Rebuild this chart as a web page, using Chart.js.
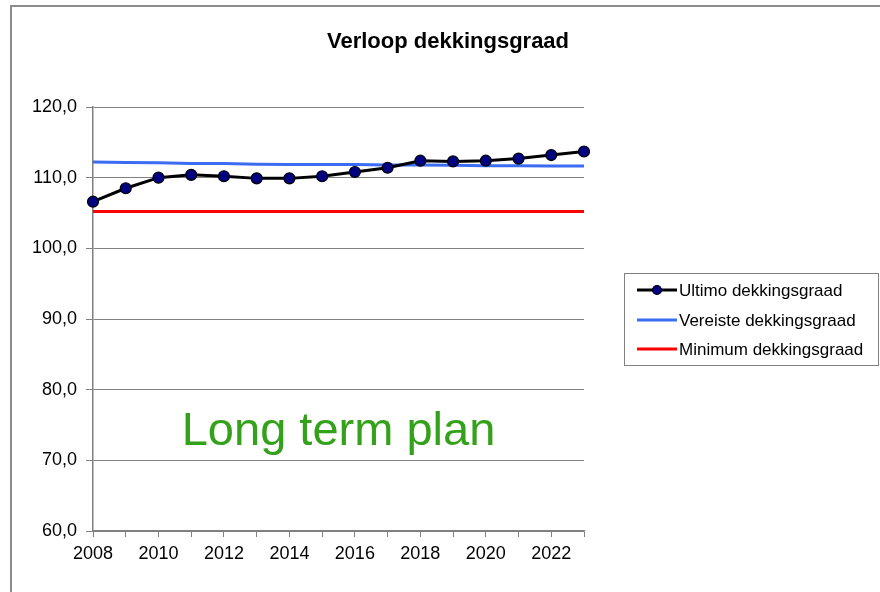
<!DOCTYPE html>
<html>
<head>
<meta charset="utf-8">
<script src="https://cdn.jsdelivr.net/npm/chart.js@4/dist/chart.umd.min.js"></script>
<style>
  html, body { margin: 0; padding: 0; background: #fff; }
  #wrap { position: relative; width: 880px; height: 592px; overflow: hidden; }
  #frame { position: absolute; left: 10px; top: 5px; right: -10px; bottom: -10px;
           border-top: 2px solid #8c8c8c; border-left: 2px solid #8c8c8c; pointer-events: none; }
  canvas { position: absolute; left: 0; top: 0; }
</style>
</head>
<body>
<div id="wrap">
  <canvas id="c" width="880" height="592"></canvas>
  <div id="frame"></div>
</div>
<script>
const title = 'Verloop dekkingsgraad';
const annotationText = 'Long term plan';
const years = ['2008','2009','2010','2011','2012','2013','2014','2015','2016','2017','2018','2019','2020','2021','2022','2023'];
const ultimo = [106.6,108.5,110.0,110.4,110.2,109.9,109.9,110.2,110.8,111.4,112.4,112.3,112.4,112.7,113.2,113.7];
const vereiste = [112.2,112.15,112.1,112.0,112.0,111.9,111.85,111.85,111.85,111.8,111.8,111.75,111.7,111.7,111.65,111.65];
const minimum = [105.2,105.2,105.2,105.2,105.2,105.2,105.2,105.2,105.2,105.2,105.2,105.2,105.2,105.2,105.2,105.2];
const seriesNames = ['Ultimo dekkingsgraad','Vereiste dekkingsgraad','Minimum dekkingsgraad'];
const yTicks = [60,70,80,90,100,110,120];

const FONT = '"Liberation Sans", Arial, sans-serif';
const GRID = '#808080';

const decor = {
  id: 'decor',
  afterDraw(chart) {
    const ctx = chart.ctx;
    const ca = chart.chartArea;
    ctx.save();
    // title
    ctx.fillStyle = '#000';
    ctx.font = 'bold 22px ' + FONT;
    ctx.textAlign = 'center';
    ctx.textBaseline = 'alphabetic';
    ctx.fillText(title, 448, 48);
    // annotation
    ctx.fillStyle = '#34a11a';
    ctx.font = '47px ' + FONT;
    ctx.fillText(annotationText, (ca.left + ca.right) / 2, chart.scales.y.getPixelForValue(72.2));
    // legend
    const bx = 624, by = 273, bw = 254, bh = 92;
    ctx.strokeStyle = '#808080';
    ctx.lineWidth = 1;
    ctx.strokeRect(bx + 0.5, by + 0.5, bw, bh);
    ctx.font = '17px ' + FONT;
    ctx.textAlign = 'left';
    ctx.textBaseline = 'middle';
    const rows = [290, 320, 349];
    chart.data.datasets.forEach((ds, i) => {
      const y = rows[i];
      ctx.strokeStyle = ds.borderColor;
      ctx.lineWidth = 3;
      ctx.beginPath();
      ctx.moveTo(637, y);
      ctx.lineTo(677, y);
      ctx.stroke();
      if (ds.pointRadius > 0) {
        ctx.beginPath();
        ctx.arc(657, y, 4.5, 0, Math.PI * 2);
        ctx.fillStyle = ds.pointBackgroundColor;
        ctx.fill();
        ctx.lineWidth = 1.2;
        ctx.strokeStyle = ds.pointBorderColor;
        ctx.stroke();
      }
      ctx.fillStyle = '#000';
      ctx.fillText(ds.label, 679, y + 1);
    });
    ctx.restore();
  }
};

new Chart(document.getElementById('c'), {
  type: 'line',
  data: {
    labels: years,
    datasets: [
      { label: seriesNames[0], data: ultimo, borderColor: '#000000', borderWidth: 3,
        pointRadius: 5.5, pointBackgroundColor: '#000080', pointBorderColor: '#000000', pointBorderWidth: 1.2,
        tension: 0, order: 0 },
      { label: seriesNames[1], data: vereiste, borderColor: '#3a6cf4', borderWidth: 3,
        pointRadius: 0, tension: 0, order: 1 },
      { label: seriesNames[2], data: minimum, borderColor: '#ff0000', borderWidth: 3,
        pointRadius: 0, tension: 0, order: 2 }
    ]
  },
  options: {
    responsive: false,
    animation: false,
    layout: { padding: { top: 107, right: 296, left: 0, bottom: 0 } },
    plugins: { legend: { display: false }, title: { display: false }, tooltip: { enabled: false } },
    scales: {
      x: {
        type: 'category',
        offset: false,
        afterFit(s) { s.height = 61; },
        grid: { drawOnChartArea: false, color: GRID, tickLength: 6, lineWidth: 1 },
        border: { display: true, color: GRID, width: 1.5 },
        ticks: {
          autoSkip: false, maxRotation: 0, padding: 6, color: '#000',
          font: { family: FONT, size: 18 },
          callback(v, i) { return i % 2 === 0 ? years[i] : ''; }
        }
      },
      y: {
        min: yTicks[0], max: yTicks[yTicks.length - 1],
        afterFit(s) { s.width = 93; },
        afterBuildTicks(s) { s.ticks = yTicks.map(v => ({ value: v })); },
        grid: { color: GRID, tickLength: 7, lineWidth: 1 },
        border: { display: true, color: GRID, width: 1.5 },
        ticks: {
          padding: 9, color: '#000',
          font: { family: FONT, size: 18 },
          callback(v) { return v.toFixed(1).replace('.', ','); }
        }
      }
    }
  },
  plugins: [decor]
});
</script>
</body>
</html>
